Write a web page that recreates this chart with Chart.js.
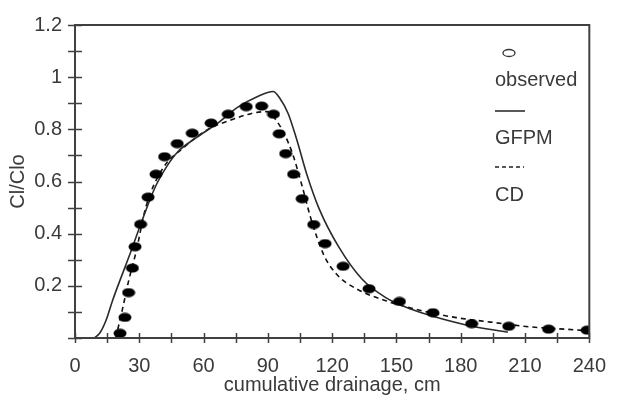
<!DOCTYPE html>
<html>
<head>
<meta charset="utf-8">
<script src="https://cdn.jsdelivr.net/npm/chart.js@4"></script>
<style>
  html, body { margin: 0; padding: 0; background: #fff; }
</style>
</head>
<body>
<canvas id="chart" width="622" height="405"></canvas>
<script>
(function () {
  "use strict";

  const observedX = [21, 23.3, 25, 26.8, 28, 30.6, 34.1, 37.8, 41.8, 47.7, 54.7, 63.5, 71.5, 79.9, 87.1,
    92.6, 95.3, 98.3, 102, 106, 111.4, 116.7, 125.1, 137.2, 151.4, 167, 185.1, 202.4, 221, 239];
  const observedY = [0.018, 0.079, 0.174, 0.268, 0.35, 0.436, 0.54, 0.628, 0.695, 0.745, 0.785, 0.824, 0.858, 0.887, 0.889,
    0.858, 0.783, 0.707, 0.628, 0.534, 0.435, 0.362, 0.275, 0.189, 0.14, 0.097, 0.055, 0.045, 0.034, 0.03];

  const gfpmX = [9, 11.5, 14.5, 17.5, 22, 26, 31, 37.5, 43, 48, 57, 66, 76, 85, 92.5,
    95.5, 99.5, 103.5, 108, 114, 123, 134, 145, 157, 167, 183, 202];
  const gfpmY = [0, 0.018, 0.068, 0.143, 0.243, 0.33, 0.444, 0.58, 0.66, 0.714, 0.77, 0.82, 0.885, 0.925, 0.945,
    0.92, 0.86, 0.76, 0.632, 0.494, 0.35, 0.225, 0.155, 0.11, 0.083, 0.049, 0.022];

  const cdX = [19, 22, 25, 28.5, 33, 40.5, 51, 62, 72.5, 82, 89.5, 94, 97.5, 101.5, 106,
    110, 116, 122, 131, 145, 160, 178, 194, 212, 230, 239];
  const cdY = [0, 0.105, 0.218, 0.33, 0.5, 0.644, 0.732, 0.8, 0.835, 0.86, 0.868, 0.833, 0.785, 0.707, 0.582,
    0.46, 0.32, 0.245, 0.19, 0.143, 0.108, 0.078, 0.061, 0.043, 0.033, 0.028];

  const xTickLabels = [0, 30, 60, 90, 120, 150, 180, 210, 240];
  const yTickLabels = [0.2, 0.4, 0.6, 0.8, 1, 1.2];

  const seriesNames = ["observed", "GFPM", "CD"];
  const xTitle = "cumulative drainage, cm";
  const yTitle = "Cl/Clo";

  const FONT = "'Liberation Sans', Arial, sans-serif";
  const TEXT = "#3a3a3a";
  const AXIS = "#404040";

  function points(xs, ys) {
    return xs.map((x, i) => ({ x, y: ys[i] }));
  }

  function isLabel(list, value) {
    return list.some((v) => Math.abs(v - value) < 1e-6);
  }

  // filled oval used for the observed points
  function ovalMarker(w, h) {
    const c = document.createElement("canvas");
    c.width = w;
    c.height = h;
    const g = c.getContext("2d");
    g.fillStyle = "#000";
    g.beginPath();
    g.ellipse(w / 2, h / 2, w / 2 - 0.5, h / 2 - 0.5, 0, 0, Math.PI * 2);
    g.fill();
    return c;
  }

  const framePlugin = {
    id: "frame",
    afterDraw(chart) {
      const { ctx, chartArea: a, scales } = chart;
      ctx.save();
      ctx.strokeStyle = AXIS;
      ctx.lineWidth = 2;
      ctx.strokeRect(a.left, a.top, a.right - a.left, a.bottom - a.top);

      ctx.lineWidth = 1.5;
      ctx.beginPath();
      scales.x.ticks.forEach((t) => {
        const px = Math.round(scales.x.getPixelForValue(t.value)) + 0.5;
        ctx.moveTo(px, a.bottom - 5);
        ctx.lineTo(px, a.bottom + 5);
      });
      scales.y.ticks.forEach((t) => {
        const py = Math.round(scales.y.getPixelForValue(t.value)) + 0.5;
        ctx.moveTo(a.left - 7, py);
        ctx.lineTo(a.left + 7, py);
      });
      ctx.stroke();
      ctx.restore();
    }
  };

  const legendPlugin = {
    id: "sideLegend",
    afterDraw(chart) {
      const ctx = chart.ctx;
      ctx.save();
      ctx.strokeStyle = "#333";
      ctx.lineWidth = 1.3;
      ctx.beginPath();
      ctx.ellipse(509, 53, 6, 3.5, 0, 0, Math.PI * 2);
      ctx.stroke();

      ctx.fillStyle = TEXT;
      ctx.font = "20px " + FONT;
      ctx.textAlign = "left";
      ctx.textBaseline = "middle";
      ctx.fillText(seriesNames[0], 495, 80);
      ctx.fillText(seriesNames[1], 495, 138);
      ctx.fillText(seriesNames[2], 495, 195);

      ctx.strokeStyle = "#222";
      ctx.lineWidth = 1.5;
      ctx.beginPath();
      ctx.moveTo(495, 111);
      ctx.lineTo(525, 111);
      ctx.stroke();
      ctx.setLineDash([4, 3]);
      ctx.beginPath();
      ctx.moveTo(495, 167);
      ctx.lineTo(524, 167);
      ctx.stroke();
      ctx.restore();
    }
  };

  new Chart(document.getElementById("chart"), {
    type: "scatter",
    data: {
      datasets: [
        {
          label: seriesNames[0],
          data: points(observedX, observedY),
          showLine: false,
          pointStyle: ovalMarker(14, 10),
          pointRadius: 6
        },
        {
          label: seriesNames[1],
          data: points(gfpmX, gfpmY),
          showLine: true,
          borderColor: "#2a2a2a",
          borderWidth: 1.6,
          pointRadius: 0,
          cubicInterpolationMode: "monotone"
        },
        {
          label: seriesNames[2],
          data: points(cdX, cdY),
          showLine: true,
          borderColor: "#111",
          borderWidth: 1.6,
          borderDash: [5, 4],
          pointRadius: 0,
          cubicInterpolationMode: "monotone"
        }
      ]
    },
    options: {
      responsive: false,
      animation: false,
      events: [],
      layout: { padding: { left: 0, right: 24, top: 19, bottom: 0 } },
      plugins: {
        legend: { display: false },
        tooltip: { enabled: false }
      },
      scales: {
        x: {
          type: "linear",
          min: 0,
          max: 240,
          afterFit: (scale) => { scale.height = 67; },
          grid: { display: false, drawTicks: false },
          border: { display: false },
          ticks: {
            stepSize: 15,
            autoSkip: false,
            maxRotation: 0,
            padding: 16,
            color: TEXT,
            font: { family: FONT, size: 20 },
            callback: (value) => (isLabel(xTickLabels, value) ? String(value) : "")
          },
          title: {
            display: true,
            text: xTitle,
            color: TEXT,
            font: { family: FONT, size: 20 },
            padding: { top: 0, bottom: 8 }
          }
        },
        y: {
          type: "linear",
          min: 0,
          max: 1.2,
          afterFit: (scale) => { scale.width = 75; },
          grid: { display: false, drawTicks: false },
          border: { display: false },
          ticks: {
            stepSize: 0.1,
            autoSkip: false,
            padding: 13,
            color: TEXT,
            font: { family: FONT, size: 20 },
            callback: (value) => {
              const hit = yTickLabels.find((v) => Math.abs(v - value) < 1e-6);
              return hit === undefined ? "" : String(hit);
            }
          },
          title: {
            display: true,
            text: yTitle,
            color: TEXT,
            font: { family: FONT, size: 20 },
            padding: { top: 6, bottom: 0 }
          }
        }
      }
    },
    plugins: [framePlugin, legendPlugin]
  });
})();
</script>
</body>
</html>
